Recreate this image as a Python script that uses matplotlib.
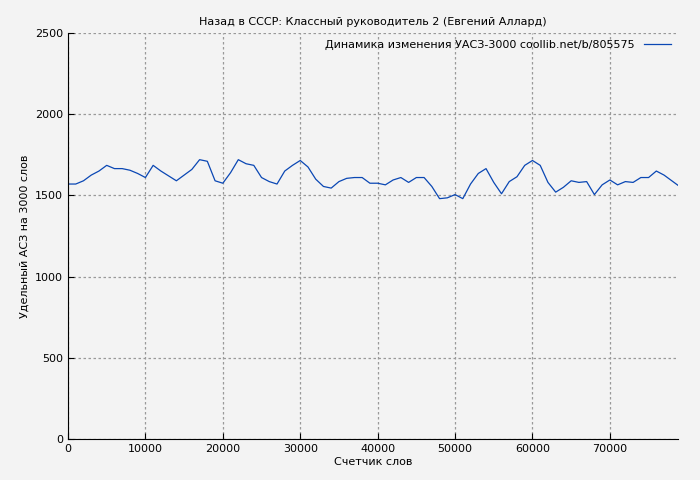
import numpy as np
import matplotlib.pyplot as plt

words = np.arange(0, 79000 + 1, 1000)
uasz = [1570, 1570, 1590, 1625, 1650, 1685, 1665, 1665, 1655, 1635,
        1610, 1685, 1650, 1620, 1590, 1625, 1660, 1720, 1710, 1590,
        1575, 1640, 1720, 1695, 1685, 1610, 1585, 1570, 1650, 1685,
        1715, 1675, 1600, 1555, 1545, 1585, 1605, 1610, 1610, 1575,
        1575, 1565, 1595, 1610, 1580, 1610, 1610, 1555, 1480, 1485,
        1505, 1480, 1570, 1635, 1665, 1580, 1510, 1585, 1615, 1685,
        1715, 1685, 1580, 1520, 1550, 1590, 1580, 1585, 1505, 1565,
        1595, 1565, 1585, 1580, 1610, 1610, 1650, 1625, 1590, 1555]

fig = plt.figure(figsize=(7, 4.8), dpi=100)
fig.patch.set_facecolor('#f3f3f3')
ax = fig.add_axes([68/700, 41/480, 610/700, 406/480])
ax.set_facecolor('#f3f3f3')
ax.plot(words, uasz, color='#0a47b4', lw=0.9, label='Динамика изменения УАСЗ-3000 coollib.net/b/805575')
ax.set_xlim(0, 78800)
ax.set_ylim(0, 2500)
ax.set_xticks([0, 10000, 20000, 30000, 40000, 50000, 60000, 70000])
ax.set_yticks([0, 500, 1000, 1500, 2000, 2500])
ax.grid(True, color='#999999', ls=(0, (2, 2)), lw=0.9)
ax.tick_params(labelsize=8, direction='in', length=4)
ax.set_title('Назад в СССР: Классный руководитель 2 (Евгений Аллард)', fontsize=8)
ax.set_xlabel('Счетчик слов', fontsize=8, labelpad=2)
ax.set_ylabel('Удельный АСЗ на 3000 слов', fontsize=8)
leg = ax.legend(loc='upper right', fontsize=8, frameon=False, markerfirst=False,
                handlelength=2.5, borderaxespad=0.2)
for s in ['top', 'right']:
    ax.spines[s].set_visible(False)
fig.savefig('out.png', dpi=100, facecolor=fig.get_facecolor())
